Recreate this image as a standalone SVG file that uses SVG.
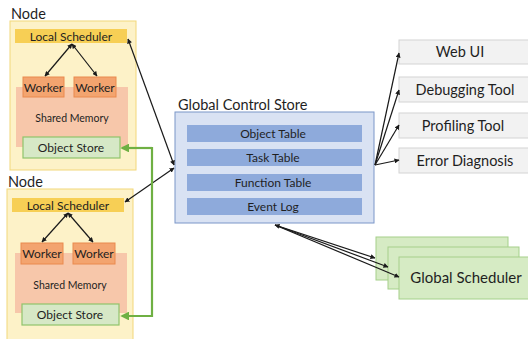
<svg xmlns="http://www.w3.org/2000/svg" width="528" height="339" viewBox="0 0 528 339">
<style>
text{font-family:Lato,"Open Sans","Liberation Sans",sans-serif;fill:#1f1f1f}
.node{fill:#fdf2c8;stroke:#f2d77a;stroke-width:1}
.ls{fill:#f7cf55}
.wk{fill:#f3a46f;stroke:#ea8a4e;stroke-width:1}
.sm{fill:#f7c7aa}
.os{fill:#d6e8c6;stroke:#8fc36b;stroke-width:1.2}
.gcs{fill:#d9e2f3;stroke:#7b96c8;stroke-width:1}
.tb{fill:#8eaadb}
.tool{fill:#f2f2f2;stroke:#d4d4d4;stroke-width:1}
.gs{fill:#d6ebc4;stroke:#a5d08a;stroke-width:1}
.c{text-anchor:middle}
.blk{stroke:#1a1a1a;stroke-width:1.2;fill:none}
.grn{stroke:#6fb043;stroke-width:2.2;fill:none}
</style>
<defs>
<marker id="ah" viewBox="0 0 10 10" refX="9" refY="5" markerWidth="5" markerHeight="5" orient="auto-start-reverse" markerUnits="userSpaceOnUse">
<path d="M0,0L10,5L0,10z" fill="#1a1a1a"/>
</marker>
<marker id="ahg" viewBox="0 0 10 10" refX="8" refY="5" markerWidth="4" markerHeight="4" orient="auto" markerUnits="strokeWidth">
<path d="M0,0L10,5L0,10z" fill="#6fb043"/>
</marker>
</defs>

<g id="node1">
<text x="11" y="19" font-size="14.5">Node</text>
<rect class="node" x="10" y="21" width="126" height="149"/>
<rect class="ls" x="15" y="29" width="112" height="14"/>
<text class="c" x="71" y="40.5" font-size="12">Local Scheduler</text>
<rect class="sm" x="16" y="87" width="112" height="60"/>
<rect class="wk" x="23" y="77" width="41" height="20"/>
<text class="c" x="43.5" y="91.5" font-size="12">Worker</text>
<rect class="wk" x="74" y="77" width="42" height="20"/>
<text class="c" x="95" y="91.5" font-size="12">Worker</text>
<text class="c" x="72" y="122" font-size="10.5">Shared Memory</text>
<rect class="os" x="23" y="137" width="97" height="21"/>
<text class="c" x="71" y="152" font-size="12">Object Store</text>
</g>

<g id="node2">
<text x="8" y="187" font-size="14.5">Node</text>
<rect class="node" x="7" y="189" width="126" height="152"/>
<rect class="ls" x="12" y="198" width="112" height="14"/>
<text class="c" x="68" y="209.5" font-size="12">Local Scheduler</text>
<rect class="sm" x="15" y="253" width="112" height="60"/>
<rect class="wk" x="21" y="243" width="42" height="21"/>
<text class="c" x="42" y="258" font-size="12">Worker</text>
<rect class="wk" x="73" y="243" width="42" height="21"/>
<text class="c" x="94" y="258" font-size="12">Worker</text>
<text class="c" x="70" y="289" font-size="10.5">Shared Memory</text>
<rect class="os" x="22" y="304" width="97" height="21"/>
<text class="c" x="70" y="319" font-size="12">Object Store</text>
</g>

<g id="gcs">
<text x="178" y="110" font-size="14.5">Global Control Store</text>
<rect class="gcs" x="175" y="112" width="199" height="111"/>
<rect class="tb" x="187" y="125" width="175" height="17"/>
<text class="c" x="273" y="138" font-size="12">Object Table</text>
<rect class="tb" x="187" y="149" width="175" height="17"/>
<text class="c" x="273" y="162" font-size="12">Task Table</text>
<rect class="tb" x="187" y="174" width="175" height="17"/>
<text class="c" x="273" y="187" font-size="12">Function Table</text>
<rect class="tb" x="187" y="198" width="175" height="17"/>
<text class="c" x="273" y="211" font-size="12">Event Log</text>
</g>

<g id="webui"><rect class="tool" x="399" y="40" width="135" height="24"/><text class="c" x="460" y="57" font-size="14.5">Web UI</text></g>
<g id="debug"><rect class="tool" x="399" y="77" width="135" height="25"/><text class="c" x="465" y="95" font-size="14.5">Debugging Tool</text></g>
<g id="profile"><rect class="tool" x="399" y="113" width="135" height="25"/><text class="c" x="463" y="131" font-size="14.5">Profiling Tool</text></g>
<g id="error"><rect class="tool" x="399" y="148" width="135" height="25"/><text class="c" x="465" y="166" font-size="14.5">Error Diagnosis</text></g>

<g id="gsched">
<rect class="gs" x="376" y="237" width="132" height="43"/>
<rect class="gs" x="388" y="247" width="131" height="42"/>
<rect class="gs" x="399" y="257" width="135" height="42"/>
<text class="c" x="466" y="283" font-size="15">Global Scheduler</text>
</g>

<g id="connectors">
<path class="blk" d="M72,44L45,76" marker-start="url(#ah)" marker-end="url(#ah)"/>
<path class="blk" d="M72,44L97,76" marker-start="url(#ah)" marker-end="url(#ah)"/>
<path class="blk" d="M68,213L42,242" marker-start="url(#ah)" marker-end="url(#ah)"/>
<path class="blk" d="M68,213L93,242" marker-start="url(#ah)" marker-end="url(#ah)"/>
<path class="blk" d="M128,39L174,165" marker-start="url(#ah)" marker-end="url(#ah)"/>
<path class="blk" d="M125,202L174,168" marker-start="url(#ah)" marker-end="url(#ah)"/>
<path class="blk" d="M375,165L399,53" marker-end="url(#ah)"/>
<path class="blk" d="M375,165L399,90" marker-end="url(#ah)"/>
<path class="blk" d="M375,165L399,125" marker-end="url(#ah)"/>
<path class="blk" d="M375,165L399,160" marker-end="url(#ah)"/>
<path class="blk" d="M275,225L375,258" marker-start="url(#ah)" marker-end="url(#ah)"/>
<path class="blk" d="M275,225L388,267" marker-end="url(#ah)"/>
<path class="blk" d="M275,225L399,277" marker-end="url(#ah)"/>
<path class="grn" d="M152,147L152,316L122,316" marker-end="url(#ahg)"/>
<path class="grn" d="M152,148L122,148" marker-end="url(#ahg)"/>
</g>
</svg>
